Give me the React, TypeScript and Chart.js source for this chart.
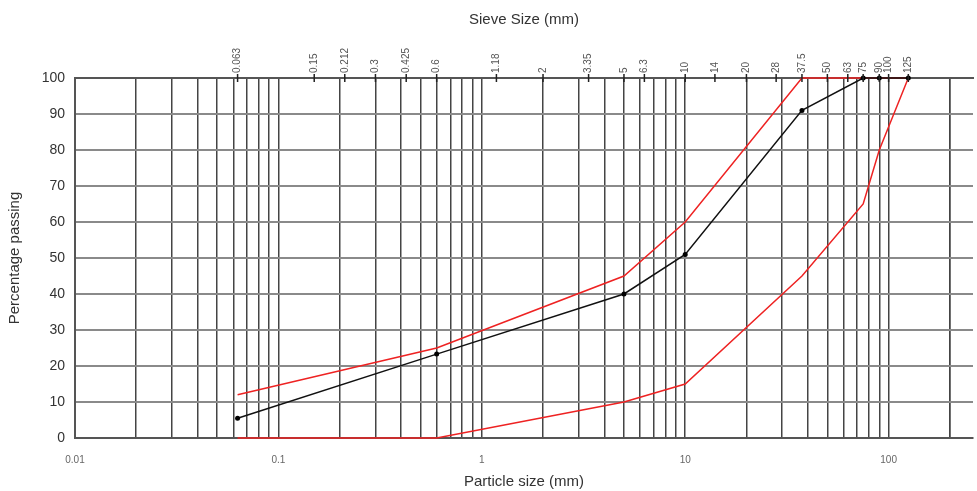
import React, { useEffect, useRef } from "react";
import { Chart, registerables } from "chart.js";

Chart.register(...registerables);

// Sieve sizes (mm) where the gradings are given
const sizes = [0.063, 0.6, 5, 10, 37.5, 75, 90, 125];
// Sample grading (% passing)
const sample = [5.5, 23.3, 40, 51, 91, 100, 100, 100];
// Envelope limits (% passing)
const upperLimit = [12, 25, 45, 60, 100, 100, 100, 100];
const lowerLimit = [0, 0, 10, 15, 45, 65, 80, 100];

// Top axis sieve sizes
const sieveSizes = [0.063, 0.15, 0.212, 0.3, 0.425, 0.6, 1.18, 2, 3.35, 5, 6.3, 10, 14, 20, 28, 37.5, 50, 63, 75, 90, 100, 125];
const sieveLabels = ["0.063", "0.15", "0.212", "0.3", "0.425", "0.6", "1.18", "2", "3.35", "5", "6.3", "10", "14", "20", "28", "37.5", "50", "63", "75", "90", "100", "125"];

// Bottom axis grid values (1..9 per decade)
const decades = [0.01, 0.1, 1, 10, 100];
const multiples = [1, 2, 3, 4, 5, 6, 7, 8, 9];

const X_MIN = 0.01;
const X_MAX = 260;

const FONT = "Arial, 'Liberation Sans', sans-serif";

const toPoints = (ys: number[]) => sizes.map((x, i) => ({ x, y: ys[i] }));

const sieveTickPlugin = {
  id: "sieveTicks",
  afterDraw(chart: any) {
    const s = chart.scales.x2;
    const top = chart.chartArea.top;
    const ctx = chart.ctx;
    ctx.save();
    ctx.strokeStyle = "#222";
    ctx.lineWidth = 1.5;
    sieveSizes.forEach((v) => {
      const px = s.getPixelForValue(v);
      ctx.beginPath();
      ctx.moveTo(px, top - 4);
      ctx.lineTo(px, top + 4);
      ctx.stroke();
    });
    ctx.restore();
  },
};

export default function App() {
  const ref = useRef<HTMLCanvasElement | null>(null);

  useEffect(() => {
    if (!ref.current) return;
    const gridValues: number[] = [];
    decades.forEach((d) => multiples.forEach((m) => gridValues.push(+(d * m).toPrecision(6))));
    gridValues.push(200);

    const chart = new Chart(ref.current, {
      type: "line",
      data: {
        datasets: [
          {
            label: "Sample",
            data: toPoints(sample),
            borderColor: "#111",
            backgroundColor: "#111",
            borderWidth: 1.5,
            pointRadius: 2.5,
            pointBackgroundColor: "#000",
            pointBorderWidth: 0,
            clip: false as any,
            order: 0,
          },
          {
            label: "Upper",
            data: toPoints(upperLimit),
            borderColor: "#ee2222",
            borderWidth: 1.5,
            pointRadius: 0,
            clip: false as any,
            order: 1,
          },
          {
            label: "Lower",
            data: toPoints(lowerLimit),
            borderColor: "#ee2222",
            borderWidth: 1.5,
            pointRadius: 0,
            clip: false as any,
            order: 1,
          },
        ],
      },
      options: {
        animation: false,
        responsive: false,
        layout: { padding: 0 },
        plugins: {
          legend: { display: false },
          tooltip: { enabled: false },
        },
        scales: {
          x: {
            type: "logarithmic",
            position: "bottom",
            min: X_MIN,
            max: X_MAX,
            afterBuildTicks: (scale: any) => {
              scale.ticks = gridValues.map((v) => ({ value: v }));
            },
            afterFit: (scale: any) => {
              scale.height = 53;
            },
            ticks: {
              autoSkip: false,
              maxRotation: 0,
              minRotation: 0,
              padding: 16,
              color: "#666",
              font: { family: FONT, size: 10 },
              callback: (value: any) => {
                const v = Number(value);
                const l = Math.log10(v);
                return Math.abs(l - Math.round(l)) < 1e-6 ? String(v) : "";
              },
            },
            grid: {
              drawTicks: false,
              color: "#444",
              lineWidth: 1.5,
            },
            border: { display: true, color: "#555", width: 2 },
            title: {
              display: true,
              text: "Particle size (mm)",
              color: "#333",
              font: { family: FONT, size: 15 },
              padding: { top: 0, bottom: 0 },
            },
          },
          x2: {
            type: "logarithmic",
            position: "top",
            min: X_MIN,
            max: X_MAX,
            afterBuildTicks: (scale: any) => {
              scale.ticks = sieveSizes.map((v) => ({ value: v }));
            },
            afterFit: (scale: any) => {
              scale.height = 78;
            },
            ticks: {
              autoSkip: false,
              maxRotation: 90,
              minRotation: 90,
              padding: 5,
              labelOffset: 12,
              color: "#555",
              font: { family: FONT, size: 10 },
              callback: (_v: any, i: number) => sieveLabels[i],
            },
            grid: { drawOnChartArea: false, drawTicks: false },
            border: { display: true, color: "#555", width: 2 },
            title: {
              display: true,
              text: "Sieve Size (mm)",
              color: "#333",
              font: { family: FONT, size: 15 },
              padding: { top: 11, bottom: 0 },
            },
          },
          y: {
            type: "linear",
            min: 0,
            max: 100,
            afterFit: (scale: any) => {
              scale.width = 75;
            },
            ticks: {
              stepSize: 10,
              padding: 10,
              color: "#333",
              font: { family: FONT, size: 14 },
            },
            grid: {
              drawTicks: false,
              color: (c: any) => (c.tick && (c.tick.value === 0 || c.tick.value === 100) ? "#555" : "#8a8a8a"),
              lineWidth: 2,
            },
            border: { display: true, color: "#555", width: 2 },
            title: {
              display: true,
              text: "Percentage passing",
              color: "#333",
              font: { family: FONT, size: 15 },
              padding: { top: 6, bottom: 0 },
            },
          },
        },
      } as any,
      plugins: [sieveTickPlugin],
    });
    return () => chart.destroy();
  }, []);

  return (
    <div style={{ position: "absolute", left: 0, top: 0, width: 977, height: 491, background: "#fff" }}>
      <canvas ref={ref} width={977} height={491} style={{ display: "block" }} />
    </div>
  );
}
